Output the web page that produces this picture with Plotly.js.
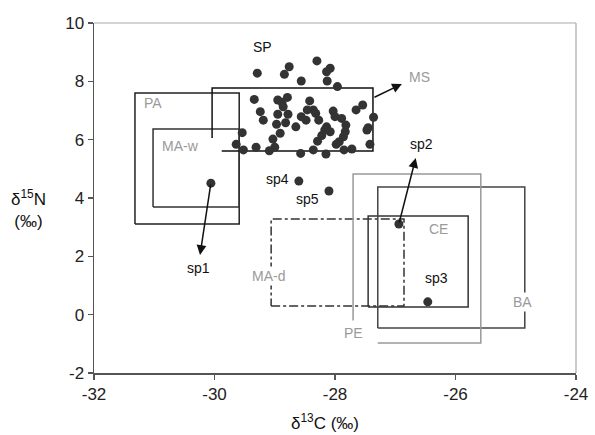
<!DOCTYPE html>
<html>
<head>
<meta charset="utf-8">
<script src="https://cdn.plot.ly/plotly-3.0.1.min.js"></script>
<style>html,body{margin:0;padding:0;background:#fff;}#chart{width:595px;height:435px;}</style>
</head>
<body>
<div id="chart"></div>
<script>
// SP cluster (δ13C, δ15N)
const spX = [-29.29,-28.76,-28.84,-28.30,-28.08,-28.14,-28.56,-28.13,-27.96,
  -29.34,-28.95,-28.88,-28.79,-28.86,-29.24,-29.19,-28.95,-28.78,-28.56,-28.97,-28.82,-28.65,-28.91,-29.03,-29.00,-29.09,-29.31,-29.54,-29.64,-29.52,-28.57,
  -28.42,-28.36,-28.46,-28.32,-28.27,-28.03,-28.00,-27.89,-28.14,-28.08,-28.17,-27.82,-27.83,-27.86,-27.93,-27.98,-28.22,-28.29,-28.36,-28.15,-27.85,-27.72,-27.65,-27.54,-27.36,-27.45,-27.47,-27.42,-28.48];
const spY = [8.28,8.50,8.24,8.70,8.45,8.33,8.01,8.01,7.82,
  7.38,7.36,7.28,7.45,7.13,6.96,6.67,6.87,6.87,6.79,6.53,6.58,6.44,6.22,6.02,5.74,5.62,5.74,6.24,5.84,5.65,5.53,
  7.33,7.02,7.02,6.90,6.67,6.98,6.79,6.73,6.44,6.27,6.33,6.50,6.27,6.10,5.93,5.84,6.14,5.95,5.65,5.51,5.65,5.68,7.02,7.19,6.77,6.41,6.33,5.84,6.67];

// individual species
const speciesNames = ['sp1','sp2','sp3','sp4','sp5'];
const speciesX = [-30.06,-26.94,-26.46,-28.60,-28.10];
const speciesY = [4.51,3.11,0.44,4.58,4.24];

// boxes (ranges)
const boxNames = ['PA','MA-w','MA-d','CE','BA'];
const boxX0 = [-31.32,-31.02,-29.06,-27.45,-27.29];
const boxX1 = [-29.59,-29.59,-26.855,-25.79,-24.85];
const boxY0 = [3.11,3.69,0.30,0.26,-0.46];
const boxY1 = [7.60,6.37,3.28,3.38,4.38];

// SP open box outline
const spBoxX = [-30.04,-30.04,-27.37,-27.37,-29.88];
const spBoxY = [6.06,7.77,7.77,5.61,5.61];
// PE open box outline
const peBoxX = [-27.70,-27.70,-25.58,-25.58,-27.29];
const peBoxY = [-0.20,4.82,4.82,-0.97,-0.97];

// arrows
const arrowFromX = [-27.37,-30.06,-26.94];
const arrowFromY = [7.43,4.51,3.11];
const arrowToX = [-26.89,-30.24,-26.66];
const arrowToY = [7.91,2.05,5.37];

// labels
const labelText = ['SP','MS','PA','MA-w','sp1','sp2','sp3','sp4','sp5','MA-d','CE','BA','PE'];
const labelX = [-29.21,-26.59,-31.02,-30.57,-30.27,-26.56,-26.32,-28.96,-28.45,-29.11,-26.29,-24.89,-27.69];
const labelY = [9.18,8.15,7.26,5.78,1.60,5.85,1.26,4.65,3.97,1.33,2.94,0.44,-0.63];
const labelGrey = [false,true,true,true,false,false,false,false,false,true,true,true,true];
const labelBg = [false,false,false,false,false,false,false,false,false,true,false,true,true];

const xTicks = [-32,-30,-28,-26,-24];
const yTicks = [-2,0,2,4,6,8,10];

const FONT = 'Liberation Sans, Arial, sans-serif';
const boxColors = ['#222','#333','#333','#333','#444'];
const boxDash = ['solid','solid','dashdot','solid','solid'];

const traces = [];
boxNames.forEach((n,i)=>{
  traces.push({type:'scatter',mode:'lines',hoverinfo:'skip',showlegend:false,
    x:[boxX0[i],boxX1[i],boxX1[i],boxX0[i],boxX0[i]],
    y:[boxY0[i],boxY0[i],boxY1[i],boxY1[i],boxY0[i]],
    line:{color:boxColors[i],width:1.5,dash:boxDash[i]}});
});
traces.push({type:'scatter',mode:'lines',showlegend:false,x:spBoxX,y:spBoxY,line:{color:'#111',width:1.5}});
traces.push({type:'scatter',mode:'lines',showlegend:false,x:peBoxX,y:peBoxY,line:{color:'#999',width:1.5}});
traces.push({type:'scatter',mode:'markers',showlegend:false,x:spX,y:spY,marker:{size:9,color:'#333'}});
traces.push({type:'scatter',mode:'markers',showlegend:false,x:speciesX,y:speciesY,text:speciesNames,marker:{size:9,color:'#333'}});

const annotations = [];
labelText.forEach((t,i)=>{
  annotations.push({x:labelX[i],y:labelY[i],xref:'x',yref:'y',text:t,showarrow:false,
    xanchor:'center',yanchor:'middle',
    font:{family:FONT,size:14,color:labelGrey[i]?'#9a9a9a':'#111'},
    bgcolor:labelBg[i]?'#ffffff':'rgba(0,0,0,0)',borderpad:1});
});
arrowFromX.forEach((v,i)=>{
  annotations.push({x:arrowToX[i],y:arrowToY[i],ax:arrowFromX[i],ay:arrowFromY[i],
    xref:'x',yref:'y',axref:'x',ayref:'y',text:'',showarrow:true,
    arrowhead:2,arrowsize:1.3,arrowwidth:1.5,arrowcolor:'#111',standoff:0,startstandoff:0});
});
annotations.push({xref:'paper',yref:'paper',x:-0.135,y:0.47,text:'δ<sup>15</sup>N<br>(‰)',showarrow:false,
  xanchor:'center',yanchor:'middle',align:'center',font:{family:FONT,size:17,color:'#111'}});
annotations.push({xref:'paper',yref:'paper',x:0.48,y:-0.14,text:'δ<sup>13</sup>C (‰)',showarrow:false,
  xanchor:'center',yanchor:'middle',font:{family:FONT,size:17,color:'#111'}});

const layout = {
  width:595,height:435,
  margin:{l:94,r:19,t:23,b:62},
  paper_bgcolor:'#fff',plot_bgcolor:'#fff',
  showlegend:false,
  xaxis:{range:[-32,-24],tickvals:xTicks,ticktext:xTicks.map(String),showgrid:false,zeroline:false,
    showline:true,linecolor:'#555',linewidth:1.5,ticks:'outside',ticklen:5,tickcolor:'#555',tickwidth:1.2,
    tickfont:{family:FONT,size:17,color:'#222'}},
  yaxis:{range:[-2,10],tickvals:yTicks,ticktext:yTicks.map(String),showgrid:false,zeroline:false,
    showline:true,linecolor:'#555',linewidth:1.5,ticks:'outside',ticklen:5,tickcolor:'#555',tickwidth:1.2,
    tickfont:{family:FONT,size:17,color:'#222'}},
  shapes:[
    {type:'line',xref:'paper',yref:'paper',x0:0,x1:1,y0:1,y1:1,line:{color:'#aaa',width:1.2}},
    {type:'line',xref:'paper',yref:'paper',x0:1,x1:1,y0:0,y1:1,line:{color:'#aaa',width:1.2}}
  ],
  annotations:annotations
};
Plotly.newPlot('chart',traces,layout,{staticPlot:true,displayModeBar:false});
</script>
</body>
</html>
